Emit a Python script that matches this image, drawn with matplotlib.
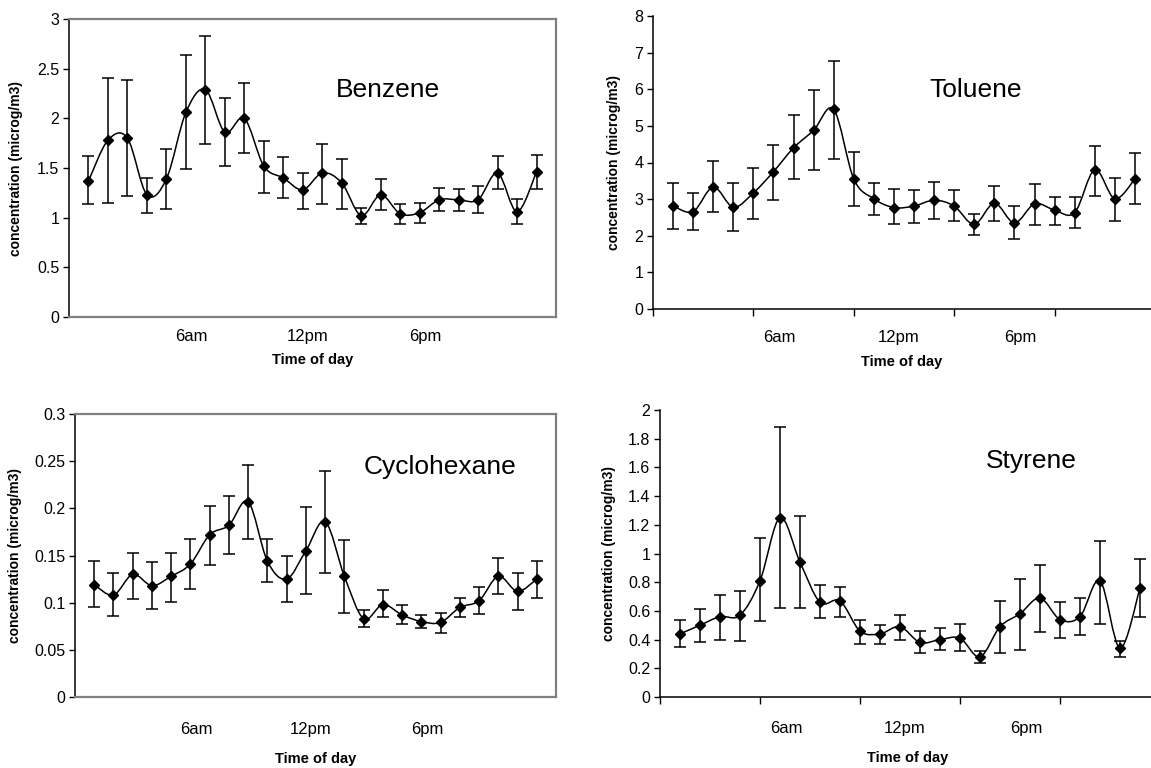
# hourly VOC concentrations, 4 panels with error bars
import numpy as np
import matplotlib
matplotlib.use('Agg')
import matplotlib.pyplot as plt
from matplotlib.path import Path
from matplotlib.patches import PathPatch

plt.rcParams['font.family'] = ['Liberation Sans', 'DejaVu Sans']

hours = list(range(1, 25))
tick_labels = ['6am', '12pm', '6pm']
tick_hours = [6.3, 12.25, 18.3]

benzene = [1.37, 1.78, 1.80, 1.23, 1.39, 2.06, 2.29, 1.86, 2.00, 1.52, 1.40, 1.28,
           1.45, 1.35, 1.02, 1.23, 1.04, 1.05, 1.18, 1.18, 1.18, 1.45, 1.06, 1.46]
benzene_hi = [1.62, 2.41, 2.39, 1.40, 1.69, 2.64, 2.83, 2.20, 2.36, 1.77, 1.61, 1.45,
              1.74, 1.59, 1.10, 1.39, 1.14, 1.15, 1.30, 1.29, 1.32, 1.62, 1.19, 1.63]
benzene_lo = [1.14, 1.15, 1.22, 1.05, 1.09, 1.49, 1.74, 1.52, 1.65, 1.25, 1.20, 1.09,
              1.14, 1.09, 0.94, 1.08, 0.94, 0.95, 1.07, 1.07, 1.05, 1.29, 0.94, 1.29]

toluene = [2.81, 2.66, 3.33, 2.78, 3.17, 3.75, 4.40, 4.88, 5.45, 3.55, 3.01, 2.77,
           2.81, 2.97, 2.81, 2.31, 2.89, 2.35, 2.87, 2.70, 2.63, 3.80, 3.01, 3.55]
toluene_hi = [3.44, 3.17, 4.05, 3.44, 3.86, 4.48, 5.30, 5.97, 6.77, 4.29, 3.44, 3.28,
              3.25, 3.47, 3.25, 2.59, 3.37, 2.81, 3.41, 3.07, 3.07, 4.44, 3.59, 4.25]
toluene_lo = [2.19, 2.16, 2.64, 2.13, 2.47, 2.97, 3.55, 3.79, 4.10, 2.82, 2.56, 2.32,
              2.36, 2.47, 2.40, 2.01, 2.40, 1.90, 2.28, 2.28, 2.20, 3.09, 2.40, 2.87]

cyclohexane = [0.119, 0.108, 0.130, 0.118, 0.128, 0.141, 0.172, 0.182, 0.207, 0.144,
               0.125, 0.155, 0.186, 0.128, 0.083, 0.098, 0.087, 0.080, 0.079, 0.095,
               0.102, 0.128, 0.112, 0.125]
cyclohexane_hi = [0.144, 0.131, 0.153, 0.143, 0.153, 0.168, 0.203, 0.213, 0.246, 0.168,
                  0.150, 0.201, 0.240, 0.166, 0.092, 0.113, 0.098, 0.087, 0.089, 0.105,
                  0.117, 0.147, 0.131, 0.144]
cyclohexane_lo = [0.095, 0.086, 0.104, 0.093, 0.101, 0.114, 0.140, 0.152, 0.168, 0.122,
                  0.101, 0.109, 0.131, 0.089, 0.074, 0.085, 0.077, 0.073, 0.068, 0.085,
                  0.088, 0.109, 0.092, 0.105]

styrene = [0.44, 0.50, 0.56, 0.57, 0.81, 1.25, 0.94, 0.66, 0.67, 0.46, 0.44, 0.49,
           0.38, 0.40, 0.41, 0.28, 0.49, 0.58, 0.69, 0.54, 0.56, 0.81, 0.34, 0.76]
styrene_hi = [0.54, 0.61, 0.71, 0.74, 1.11, 1.88, 1.26, 0.78, 0.77, 0.54, 0.50, 0.57,
              0.46, 0.48, 0.51, 0.32, 0.67, 0.82, 0.92, 0.66, 0.69, 1.09, 0.39, 0.96]
styrene_lo = [0.35, 0.38, 0.40, 0.39, 0.53, 0.62, 0.62, 0.55, 0.56, 0.37, 0.37, 0.40,
              0.31, 0.33, 0.32, 0.24, 0.31, 0.33, 0.45, 0.41, 0.43, 0.51, 0.28, 0.56]


def smooth_path(x, y):
    # Excel-like smoothed line: cubic bezier through every point
    pts = np.column_stack([x, y])
    p = np.vstack([pts[0], pts, pts[-1]])
    verts = [pts[0]]
    codes = [Path.MOVETO]
    for i in range(1, len(p) - 2):
        c1 = p[i] + (p[i + 1] - p[i - 1]) / 6
        c2 = p[i + 1] - (p[i + 2] - p[i]) / 6
        verts += [c1, c2, p[i + 1]]
        codes += [Path.CURVE4] * 3
    return Path(verts, codes)


W, H = 1151, 768
fig = plt.figure(figsize=(W / 100, H / 100), dpi=100)


def px_axes(left, top, right, bottom):
    return fig.add_axes([left / W, 1 - bottom / H, (right - left) / W, (bottom - top) / H])


panels = [
    # name, values, hi, lo, ymax, ystep, box(l,t,r,b), boxed, name pos, ylabel x, tick pad, xlabel y
    ('Benzene', benzene, benzene_hi, benzene_lo, 3, 0.5, (69, 19, 556, 317), True,
     (0.654, 0.762), -0.094, 8.5, -0.121),
    ('Toluene', toluene, toluene_hi, toluene_lo, 8, 1, (653, 16, 1155, 309), False,
     (0.643, 0.747), -0.064, 15, -0.157),
    ('Cyclohexane', cyclohexane, cyclohexane_hi, cyclohexane_lo, 0.3, 0.05, (75, 414, 556, 697), True,
     (0.758, 0.813), -0.111, 18, -0.194),
    ('Styrene', styrene, styrene_hi, styrene_lo, 2, 0.2, (660, 410, 1160, 697), False,
     (0.742, 0.822), -0.088, 17, -0.187),
]

for name, vals, hi, lo, ymax, ystep, box, boxed, npos, ylx, tpad, xly in panels:
    ax = px_axes(*box)
    vals = np.array(vals)
    yerr = [vals - np.array(lo), np.array(hi) - vals]
    ax.add_patch(PathPatch(smooth_path(hours, vals), facecolor='none',
                           edgecolor='black', linewidth=1.1))
    ax.errorbar(hours, vals, yerr=yerr, fmt='none', ecolor='black',
                elinewidth=1.1, capsize=4, capthick=1.1)
    ax.plot(hours, vals, 'D', color='black', markersize=5.5)

    yt = np.arange(0, ymax + ystep / 2, ystep)
    ax.set_xlim(0, 25)
    ax.set_ylim(0, ymax)
    ax.set_yticks(yt)
    ax.set_yticklabels(['%g' % round(v, 3) for v in yt])
    ax.set_xticks(tick_hours)
    ax.set_xticklabels(tick_labels)
    ax.tick_params(axis='x', which='major', length=0, pad=tpad, labelsize=12)
    ax.tick_params(axis='y', direction='out', length=4, width=1, pad=3, labelsize=11.5)

    if boxed:
        for s in ['top', 'right', 'bottom']:
            ax.spines[s].set_color('#808080')
            ax.spines[s].set_linewidth(1.6)
        ax.spines['left'].set_color('black')
        ax.spines['left'].set_linewidth(1.1)
    else:
        ax.spines['top'].set_visible(False)
        ax.spines['right'].set_visible(False)
        ax.spines['left'].set_linewidth(1.1)
        ax.spines['bottom'].set_linewidth(1.1)
        ax.set_xticks(np.arange(0, 21, 5), minor=True)
        ax.tick_params(axis='x', which='minor', direction='out', length=5, width=1)

    ax.text(npos[0], npos[1], name, transform=ax.transAxes, ha='center', va='center',
            fontsize=19)
    ax.set_ylabel('concentration (microg/m3)', fontsize=10, fontweight='bold')
    ax.yaxis.set_label_coords(ylx, 0.5)
    ax.set_xlabel('Time of day', fontsize=10.5, fontweight='bold')
    ax.xaxis.set_label_coords(0.5 if boxed else 0.496, xly)

fig.savefig('out.png', dpi=100)
